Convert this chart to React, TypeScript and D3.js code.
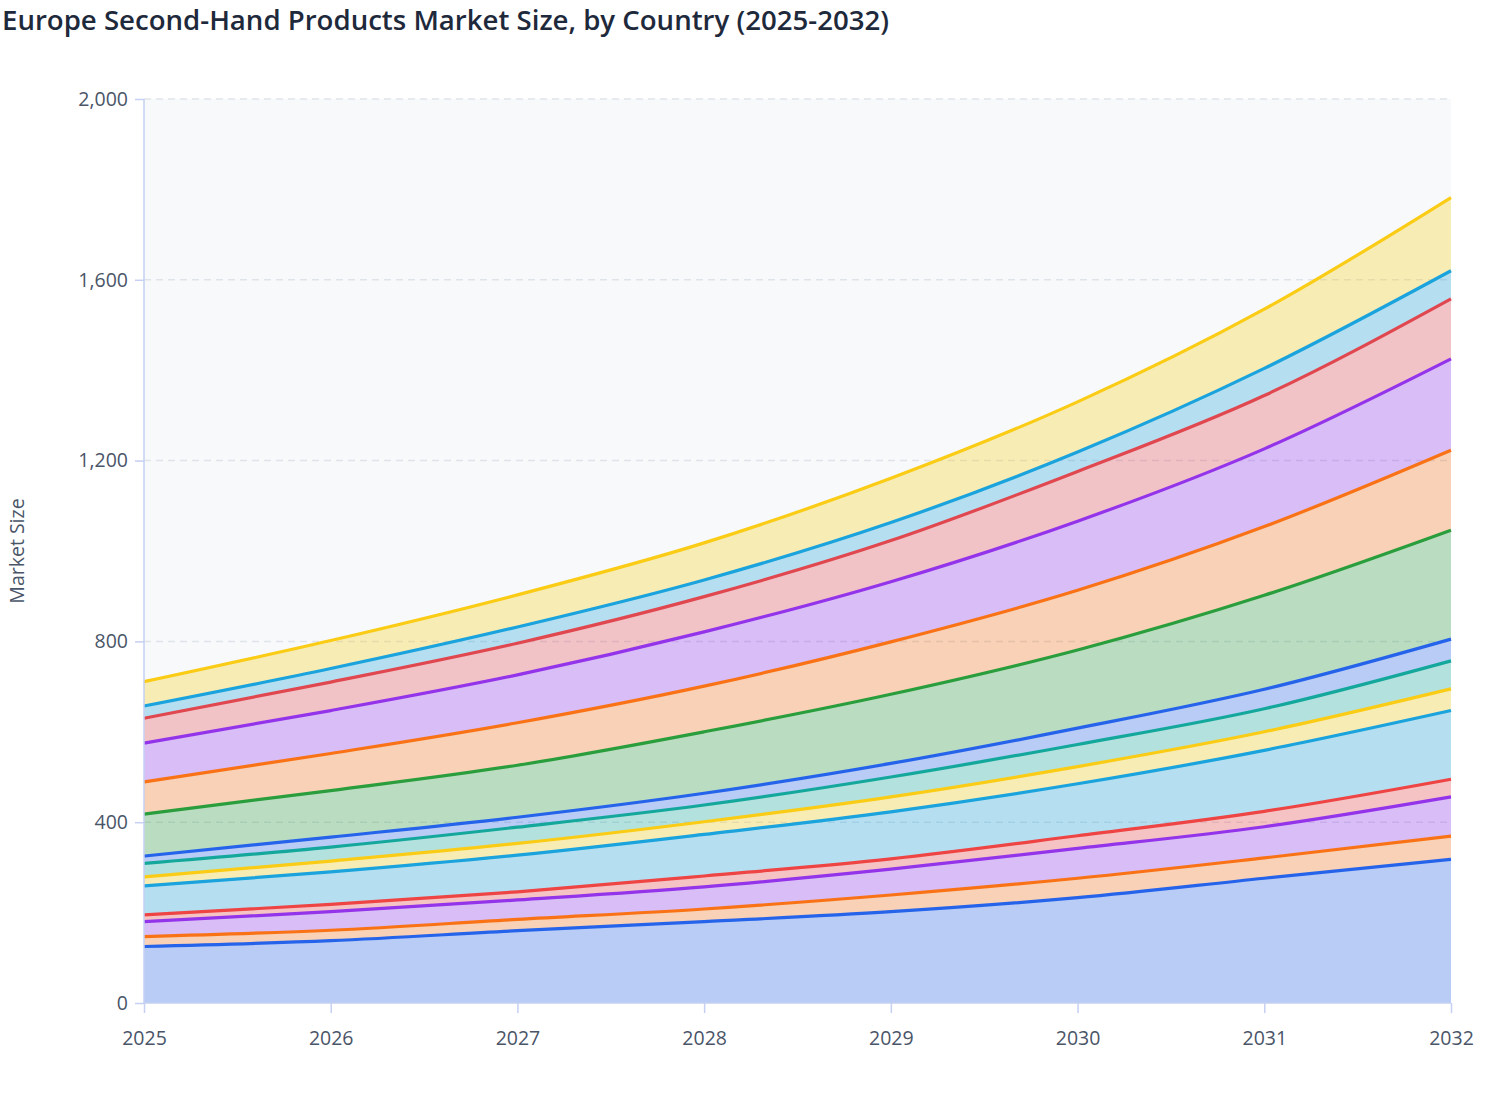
import { useEffect, useRef } from "react"
import * as d3 from "d3"

// years on the x axis
const years = [2025, 2026, 2027, 2028, 2029, 2030, 2031, 2032]

// per-country market size (stacked bottom to top)
const germany = [125, 138, 160, 180, 202, 233, 276, 318]
const austria = [22, 23, 25, 28, 37, 43, 45, 51]
const netherlands = [33, 41, 43, 49, 57, 66, 69, 87]
const belgium = [15, 16, 18, 24, 23, 28, 34, 39]
const spain = [64, 72, 81, 92, 104, 115, 135, 152]
const sweden = [20, 24, 26, 28, 33, 38, 41, 48]
const poland = [30, 31, 36, 37, 44, 49, 51, 62]
const denmark = [16, 22, 22, 26, 30, 36, 43, 48]
const france = [93, 103, 115, 136, 153, 173, 208, 241]
const unitedKingdom = [71, 82, 94, 101, 116, 132, 152, 177]
const italy = [86, 95, 106, 120, 133, 153, 172, 202]
const switzerland = [55, 63, 70, 78, 91, 110, 118, 133]
const portugal = [27, 30, 36, 37, 40, 43, 60, 62]
const restOfEurope = [54, 62, 71, 82, 98, 111, 131, 162]

const seriesNames = [
  "Germany", "Austria", "Netherlands", "Belgium", "Spain", "Sweden", "Poland",
  "Denmark", "France", "United Kingdom", "Italy", "Switzerland", "Portugal", "Rest of Europe",
]
const seriesValues = [
  germany, austria, netherlands, belgium, spain, sweden, poland,
  denmark, france, unitedKingdom, italy, switzerland, portugal, restOfEurope,
]
const seriesColors = [
  "#2563eb", "#f97316", "#9333ea", "#ef4444", "#1aa3dc", "#facc15", "#14a89c",
  "#2563eb", "#2a9d3c", "#f97316", "#9333ea", "#e0474f", "#1aa3dc", "#facc15",
]

const yTicks = [0, 400, 800, 1200, 1600, 2000]

type Row = { year: number; [key: string]: number }

export default function App() {
  const svgRef = useRef<SVGSVGElement>(null)

  useEffect(() => {
    if (!svgRef.current) return
    const width = 1508
    const height = 1120
    const margin = { top: 99, right: 57, bottom: 117, left: 144 }

    const svg = d3.select(svgRef.current)
    svg.selectAll("*").remove()
    svg.attr("width", width).attr("height", height)

    const rows: Row[] = years.map((year, i) => {
      const r: Row = { year }
      seriesNames.forEach((name, k) => (r[name] = seriesValues[k][i]))
      return r
    })
    const stacked = d3.stack<Row>().keys(seriesNames)(rows)

    const x = d3.scaleLinear().domain([2025, 2032]).range([margin.left, width - margin.right])
    const y = d3.scaleLinear().domain([0, 2000]).range([height - margin.bottom, margin.top])

    const font = "'Open Sans', 'Noto Sans', sans-serif"

    // title
    svg
      .append("text")
      .attr("x", 2)
      .attr("y", 30)
      .attr("font-family", font)
      .attr("font-size", 27.6)
      .attr("font-weight", 600)
      .attr("fill", "#1e293b")
      .text("Europe Second-Hand Products Market Size, by Country (2025-2032)")

    // plot background
    svg
      .append("rect")
      .attr("x", margin.left)
      .attr("y", margin.top)
      .attr("width", width - margin.left - margin.right)
      .attr("height", height - margin.top - margin.bottom)
      .attr("fill", "#f8f9fb")

    // gridlines
    svg
      .append("g")
      .selectAll("line")
      .data(yTicks.filter((t) => t > 0))
      .join("line")
      .attr("x1", margin.left)
      .attr("x2", width - margin.right)
      .attr("y1", (d) => y(d))
      .attr("y2", (d) => y(d))
      .attr("stroke", "#dfe3ea")
      .attr("stroke-width", 1.5)
      .attr("stroke-dasharray", "7,5")

    const area = d3
      .area<d3.SeriesPoint<Row>>()
      .x((d) => x(d.data.year))
      .y0((d) => y(d[0]))
      .y1((d) => y(d[1]))
      .curve(d3.curveMonotoneX)

    const line = d3
      .line<d3.SeriesPoint<Row>>()
      .x((d) => x(d.data.year))
      .y((d) => y(d[1]))
      .curve(d3.curveMonotoneX)

    const layers = svg.append("g")
    stacked.forEach((s, k) => {
      layers
        .append("path")
        .datum(s)
        .attr("fill", seriesColors[k])
        .attr("fill-opacity", 0.3)
        .attr("d", area)
    })
    stacked.forEach((s, k) => {
      layers
        .append("path")
        .datum(s)
        .attr("fill", "none")
        .attr("stroke", seriesColors[k])
        .attr("stroke-width", 3.2)
        .attr("d", line)
    })

    const axisColor = "#c5d0f2"
    const tickText = "#4a5568"

    // y axis
    const yAxis = svg
      .append("g")
      .attr("transform", `translate(${margin.left},0)`)
      .call(
        d3
          .axisLeft(y)
          .tickValues(yTicks)
          .tickSize(9)
          .tickPadding(7)
          .tickFormat((d) => d3.format(",")(d as number)),
      )
    yAxis.select(".domain").attr("stroke", axisColor).attr("stroke-width", 1.5).attr("d", `M0,${y(0)}V${y(2000)}`)
    yAxis.selectAll(".tick line").attr("stroke", axisColor).attr("stroke-width", 1.5)
    yAxis
      .selectAll(".tick text")
      .attr("font-family", font)
      .attr("font-size", 19.5)
      .attr("fill", tickText)

    // x axis
    const xAxis = svg
      .append("g")
      .attr("transform", `translate(0,${height - margin.bottom})`)
      .call(
        d3
          .axisBottom(x)
          .tickValues(years)
          .tickSize(10)
          .tickPadding(18)
          .tickFormat((d) => String(d)),
      )
    xAxis.select(".domain").attr("stroke", axisColor).attr("stroke-width", 1.5).attr("d", `M${x(2025)},0H${x(2032)}`)
    xAxis.selectAll(".tick line").attr("stroke", axisColor).attr("stroke-width", 1.5)
    xAxis
      .selectAll(".tick text")
      .attr("font-family", font)
      .attr("font-size", 19.5)
      .attr("fill", tickText)

    // y axis label
    svg
      .append("text")
      .attr("transform", `translate(24,${(margin.top + height - margin.bottom) / 2}) rotate(-90)`)
      .attr("text-anchor", "middle")
      .attr("font-family", font)
      .attr("font-size", 19.5)
      .attr("fill", tickText)
      .text("Market Size")
  }, [])

  return <svg ref={svgRef} style={{ position: "absolute", left: 0, top: 0 }} />
}
